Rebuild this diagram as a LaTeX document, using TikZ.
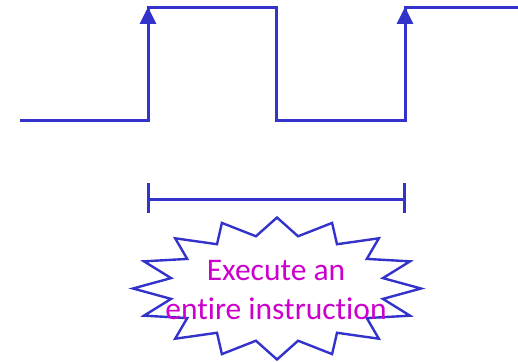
\documentclass[tikz,border=0pt]{standalone}
\usepackage{fontspec}
\setmainfont{Carlito}[Ligatures={NoCommon}]
\usetikzlibrary{arrows.meta}
\definecolor{wave}{HTML}{3333CC}
\definecolor{lbl}{HTML}{CC00CC}
\begin{document}
\begin{tikzpicture}[x=1pt,y=-1pt,
  waveline/.style={draw=wave,line width=3pt},
  edgearrow/.style={draw=wave,line width=3pt,-{Triangle[width=16pt,length=17pt]}},
  burst/.style={draw=wave,line width=2.4pt,line join=miter},
  msgtext/.style={text=lbl,align=center,font=\fontsize{31.5}{39}\selectfont,inner sep=0pt}]
\useasboundingbox (0,0) rectangle (518,361);
% clock waveform
\draw[waveline] (20,120) -- (148,120) -- (148,8) -- (276,8) -- (276,120) -- (405,120) -- (405,8) -- (518,8);
\coordinate (r1a) at (148,70);
\coordinate (r1b) at (148,7);
\coordinate (r2a) at (405,70);
\coordinate (r2b) at (405,7);
\draw[edgearrow] (r1a) -- (r1b);
\draw[edgearrow] (r2a) -- (r2b);
% bracket
\coordinate (bl) at (148,199);
\coordinate (br) at (404,199);
\draw[waveline] (bl) -- (br);
\draw[waveline] ([yshift=-14pt]bl) -- ([yshift=16pt]bl);
\draw[waveline] ([yshift=-14pt]br) -- ([yshift=16pt]br);
% starburst
\draw[burst] ({277+144*cos(90)},{288.5-71*sin(90)})
  \foreach \i in {1,...,31} {
    -- ({277+(mod(\i,2)==0 ? 1 : 0.75)*144*cos(90+\i*11.25)},{288.5-(mod(\i,2)==0 ? 1 : 0.75)*71*sin(90+\i*11.25)})
  } -- cycle;
\node[msgtext] (msg) at (276,290) {Execute an\\entire instruction};
\end{tikzpicture}
\end{document}
